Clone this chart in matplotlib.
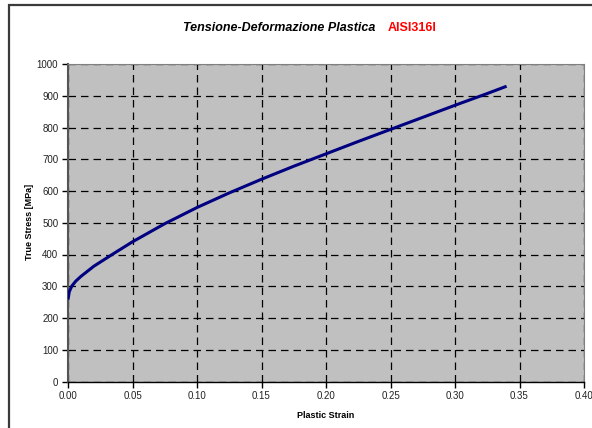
import matplotlib.pyplot as plt
from matplotlib.patches import Rectangle

# plastic strain vs true stress, AISI 316L
strain = [0.000, 0.001, 0.003, 0.006, 0.010, 0.020, 0.035, 0.050, 0.075,
          0.100, 0.125, 0.150, 0.175, 0.200, 0.225, 0.250, 0.275, 0.300,
          0.325, 0.340]
stress = [258, 283, 301, 316, 331, 363, 402, 440, 497,
          548, 594, 637, 678, 717, 756, 794, 832, 870,
          907, 930]

x_ticks = [0.00, 0.05, 0.10, 0.15, 0.20, 0.25, 0.30, 0.35, 0.40]
y_ticks = [0, 100, 200, 300, 400, 500, 600, 700, 800, 900, 1000]

W, H = 592, 428
plt.rcParams['font.family'] = ['Liberation Sans', 'DejaVu Sans']

fig = plt.figure(figsize=(W / 100, H / 100), dpi=100)
fig.patch.set_facecolor('white')

# outer chart frame
frame = Rectangle((9 / W, -0.1), 1.2, 1 - 5 / H + 0.1, transform=fig.transFigure,
                  facecolor='none', edgecolor='#3a3a3a', linewidth=1.6)
fig.patches.append(frame)

ax = fig.add_axes([68 / W, 1 - 381.5 / H, (584 - 68) / W, (381.5 - 64) / H])
ax.set_facecolor('#c0c0c0')

ax.plot(strain, stress, color='#000080', linewidth=2.2, solid_capstyle='butt',
        solid_joinstyle='round', zorder=3)

ax.set_xlim(0, 0.40)
ax.set_ylim(0, 1000)
ax.set_xticks(x_ticks)
ax.set_yticks(y_ticks)
ax.set_xticklabels([f'{v:.2f}' for v in x_ticks])
ax.set_yticklabels([str(v) for v in y_ticks])
ax.tick_params(direction='out', length=4, width=1, colors='black', labelsize=7,
               labelcolor='#222222', pad=3)

ax.grid(True, color='black', linestyle=(0, (6, 4)), linewidth=0.9, zorder=1)
ax.set_axisbelow(True)

ax.spines['left'].set_color('#555555')
ax.spines['left'].set_linewidth(1.5)
ax.spines['bottom'].set_color('black')
ax.spines['bottom'].set_linewidth(1.0)
ax.spines['top'].set_color('#808080')
ax.spines['right'].set_color('#808080')

fig.text(326 / W, 1 - 416 / H, 'Plastic Strain', ha='center', va='center',
         fontsize=6.5, fontweight='bold')
fig.text(30 / W, 1 - 222 / H, 'True Stress [MPa]', ha='center', va='center',
         rotation=90, fontsize=6.5, fontweight='bold')

fig.text(375 / W, 1 - 31 / H, 'Tensione-Deformazione Plastica', ha='right',
         va='baseline', fontsize=9, fontweight='bold', fontstyle='italic')
fig.text(388 / W, 1 - 31 / H, 'AISI316l', ha='left', va='baseline',
         fontsize=9, fontweight='bold', color='#ff0000')

fig.savefig('out.png', dpi=100)
